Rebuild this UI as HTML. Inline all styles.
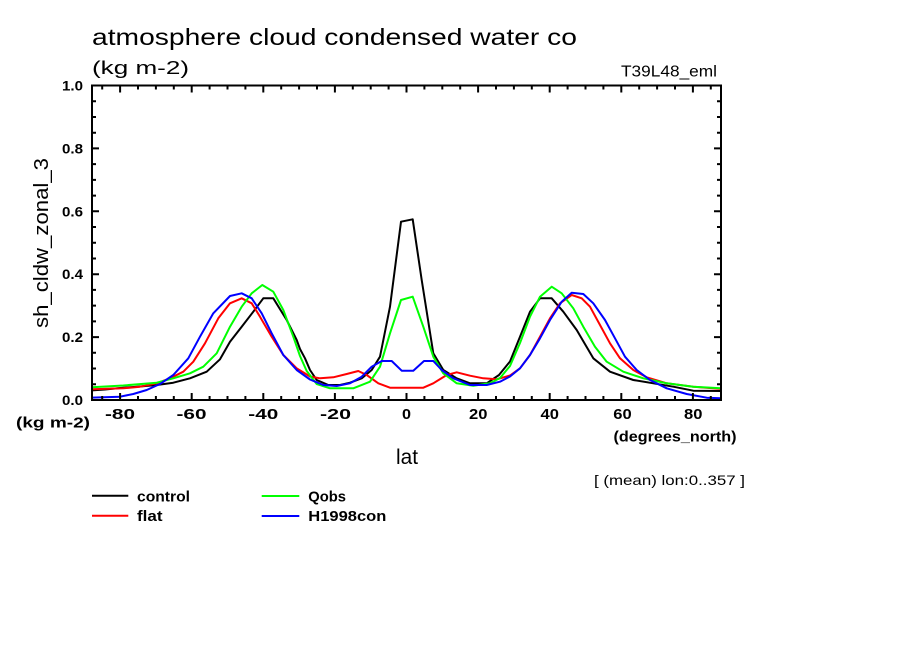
<!DOCTYPE html>
<html><head><meta charset="utf-8"><style>
html,body{margin:0;padding:0;background:#fff;}
svg{display:block;}
text{font-family:"Liberation Sans",sans-serif;fill:#000;}
.b{font-weight:bold;}
</style></head><body>
<svg width="904" height="654" viewBox="0 0 904 654" xmlns="http://www.w3.org/2000/svg">
<rect width="904" height="654" fill="#fff"/>
<!-- titles -->
<text x="92" y="45" font-size="23" textLength="485" lengthAdjust="spacingAndGlyphs">atmosphere cloud condensed water co</text>
<text x="92" y="74" font-size="18" textLength="97" lengthAdjust="spacingAndGlyphs">(kg m-2)</text>
<text x="621" y="76.5" font-size="15.5" textLength="96" lengthAdjust="spacingAndGlyphs">T39L48_eml</text>

<defs><clipPath id="c"><rect x="92" y="85.5" width="629" height="314.5"/></clipPath></defs>
<!-- curves -->
<g clip-path="url(#c)" fill="none" stroke-width="2" stroke-linejoin="round">
<polyline stroke="#000" points="90,390.5 105,389.5 120,388 140,386.5 156.7,385 173.3,382.7 190,378.3 206.7,371.7 220,359.3 230,341.7 241.7,326.7 253.3,311.7 263.3,298.3 273.3,298.3 286.7,320 296.7,340 300,349 305,358.3 310,370 316.7,380 328.3,385 340,385 350,382.7 361.7,378.3 371.7,370 380,356.7 390,306.7 401,221.7 412.7,219.3 421.7,280 433.3,353.3 443.3,370 456.7,378.3 470,383.3 486.7,383.3 499,375 510,361.5 520,336.7 530,311.7 540,298.3 551.7,298.3 563.3,311.7 576.7,330 593.3,358.3 610,371.7 633.3,380 653.3,383.3 673.3,386.7 693.3,390.7 723,391"/>
<polyline stroke="#f00" points="90,389.3 123.3,388.3 140,386.7 156.7,383.3 170,378.3 183.3,371.7 193.3,361.7 205,343.3 218.3,318.3 230,303.3 241.7,298.3 251.7,303.3 260,316.7 271.7,336.7 283.3,355 296.7,368.3 310,376.5 320,378.3 333.3,377.3 346.7,374 358.3,371 366.7,375 378.3,383.3 390,387.7 423.3,387.7 433.3,383.3 446.7,375 456.7,372.3 470,375.7 483.3,378.3 496.7,379.3 510,375.5 520,368.3 530,355 540,336.7 550,318.3 560,303.3 571.7,295 581.7,298.3 590,306.7 600,325 610,343.3 620,358.3 633.3,370 646.7,377.3 666.7,383.3 693.3,386.7 723,389"/>
<polyline stroke="#0f0" points="90,387.3 123.3,385.5 156.7,382.7 173.3,378.3 190,373.3 203.3,366.7 216.7,353.3 230,326.7 241.7,306.7 251.7,293.3 262.3,285 273.3,291.7 283.3,310 293.3,336.7 300,356 306.7,371 316.7,384 330,388.3 353.3,388.3 370,381.7 380,366.7 390,333.3 401,300 412.7,296.7 423.3,326.7 433.3,356.7 443.3,373.3 456.7,383.3 473.3,385.7 490,383.3 500,378 510,366 520,343 530,316.7 540,296.7 551.7,286.7 561.7,293.3 573.3,308.3 583.3,326.7 595,346.7 606.7,361.7 623.3,371.7 643.3,378.3 666.7,383.3 693.3,386.7 723,388.3"/>
<polyline stroke="#00f" points="90,397.7 120,396.7 133.3,394 146.7,390 160,384 173.3,375 188.3,358.3 200,336.7 213.3,313.3 230,296 241.7,293.3 251.7,298.3 261.7,313.3 271.7,333.3 283.3,355 296.7,370 310,379.5 323.3,385 336.7,386 350,383.3 361.7,376.7 371.7,366.7 381.7,361 391.7,361 401.7,370.7 413.3,370.7 424,361 433.3,361 441.7,370 453.3,378.3 470,385 486.7,385 500,381.7 510,376.5 520,368.3 530,355 540,338.3 550,320 561.7,301.7 571.7,292.7 583.3,294 593.3,303.3 605,320 615,338.3 625,356.7 636.7,370 650,380 666.7,388.3 686.7,394 706.7,397.7 723,398.3"/>
</g>

<!-- frame -->
<rect x="92" y="85.5" width="629" height="314.5" fill="none" stroke="#000" stroke-width="2"/>
<!-- ticks -->
<g stroke="#000" stroke-width="2" fill="none">
<!-- left/right major -->
<path d="M92 400h7M92 337.1h7M92 274.2h7M92 211.3h7M92 148.4h7M92 85.5h7
M721 400h-7M721 337.1h-7M721 274.2h-7M721 211.3h-7M721 148.4h-7M721 85.5h-7"/>
<!-- left/right minor -->
<path d="M92 384.3h4M92 368.55h4M92 352.8h4M92 321.4h4M92 305.65h4M92 289.9h4M92 258.5h4M92 242.75h4M92 227h4M92 195.6h4M92 179.85h4M92 164.1h4M92 132.7h4M92 116.95h4M92 101.2h4
M721 384.3h-4M721 368.55h-4M721 352.8h-4M721 321.4h-4M721 305.65h-4M721 289.9h-4M721 258.5h-4M721 242.75h-4M721 227h-4M721 195.6h-4M721 179.85h-4M721 164.1h-4M721 132.7h-4M721 116.95h-4M721 101.2h-4"/>
<!-- bottom/top major -->
<path d="M120.1 400v-7M191.7 400v-7M263.3 400v-7M334.9 400v-7M406.5 400v-7M478.1 400v-7M549.7 400v-7M621.3 400v-7M692.9 400v-7
M120.1 85.5v7M191.7 85.5v7M263.3 85.5v7M334.9 85.5v7M406.5 85.5v7M478.1 85.5v7M549.7 85.5v7M621.3 85.5v7M692.9 85.5v7"/>
<!-- bottom/top minor -->
<path d="M102.2 400v-4M138 400v-4M155.9 400v-4M173.8 400v-4M209.6 400v-4M227.5 400v-4M245.4 400v-4M281.2 400v-4M299.1 400v-4M317 400v-4M352.8 400v-4M370.7 400v-4M388.6 400v-4M424.4 400v-4M442.3 400v-4M460.2 400v-4M496 400v-4M513.9 400v-4M531.8 400v-4M567.6 400v-4M585.5 400v-4M603.4 400v-4M639.2 400v-4M657.1 400v-4M675 400v-4M710.8 400v-4
M102.2 85.5v4M138 85.5v4M155.9 85.5v4M173.8 85.5v4M209.6 85.5v4M227.5 85.5v4M245.4 85.5v4M281.2 85.5v4M299.1 85.5v4M317 85.5v4M352.8 85.5v4M370.7 85.5v4M388.6 85.5v4M424.4 85.5v4M442.3 85.5v4M460.2 85.5v4M496 85.5v4M513.9 85.5v4M531.8 85.5v4M567.6 85.5v4M585.5 85.5v4M603.4 85.5v4M639.2 85.5v4M657.1 85.5v4M675 85.5v4M710.8 85.5v4"/>
</g>

<!-- y tick labels -->
<g class="b" font-size="14">
<text x="62" y="405" textLength="21" lengthAdjust="spacingAndGlyphs">0.0</text>
<text x="62" y="342.1" textLength="21" lengthAdjust="spacingAndGlyphs">0.2</text>
<text x="62" y="279.2" textLength="21" lengthAdjust="spacingAndGlyphs">0.4</text>
<text x="62" y="216.3" textLength="21" lengthAdjust="spacingAndGlyphs">0.6</text>
<text x="62" y="153.4" textLength="21" lengthAdjust="spacingAndGlyphs">0.8</text>
<text x="62" y="90.5" textLength="21" lengthAdjust="spacingAndGlyphs">1.0</text>
</g>
<!-- x tick labels -->
<g class="b" font-size="15">
<text x="105" y="419" textLength="30" lengthAdjust="spacingAndGlyphs">-80</text>
<text x="176.5" y="419" textLength="30" lengthAdjust="spacingAndGlyphs">-60</text>
<text x="248.3" y="419" textLength="30" lengthAdjust="spacingAndGlyphs">-40</text>
<text x="320" y="419" textLength="31" lengthAdjust="spacingAndGlyphs">-20</text>
<text x="402" y="419" textLength="9" lengthAdjust="spacingAndGlyphs">0</text>
<text x="469" y="419" textLength="18.4" lengthAdjust="spacingAndGlyphs">20</text>
<text x="540.5" y="419" textLength="18.4" lengthAdjust="spacingAndGlyphs">40</text>
<text x="613.3" y="419" textLength="18.4" lengthAdjust="spacingAndGlyphs">60</text>
<text x="684" y="419" textLength="18.4" lengthAdjust="spacingAndGlyphs">80</text>
</g>

<text class="b" x="16" y="427.5" font-size="15" textLength="74" lengthAdjust="spacingAndGlyphs">(kg m-2)</text>
<text class="b" x="613.5" y="441.5" font-size="15" textLength="123" lengthAdjust="spacingAndGlyphs">(degrees_north)</text>
<text x="396" y="464" font-size="21" textLength="22" lengthAdjust="spacingAndGlyphs">lat</text>
<text x="594" y="485" font-size="14" textLength="151" lengthAdjust="spacingAndGlyphs">[ (mean) lon:0..357 ]</text>

<!-- y axis label -->
<text transform="translate(48,328) rotate(-90)" font-size="20" textLength="170" lengthAdjust="spacingAndGlyphs">sh_cldw_zonal_3</text>

<!-- legend -->
<g stroke-width="2">
<line x1="92" y1="495.7" x2="128.3" y2="495.7" stroke="#000"/>
<line x1="92" y1="515.7" x2="128.3" y2="515.7" stroke="#f00"/>
<line x1="261.7" y1="496" x2="299.3" y2="496" stroke="#0f0"/>
<line x1="261.7" y1="516" x2="299.3" y2="516" stroke="#00f"/>
</g>
<g class="b" font-size="15">
<text x="137" y="501.5" textLength="53" lengthAdjust="spacingAndGlyphs">control</text>
<text x="137" y="520.8" textLength="25.5" lengthAdjust="spacingAndGlyphs">flat</text>
<text x="308.3" y="501.5" textLength="37.7" lengthAdjust="spacingAndGlyphs">Qobs</text>
<text x="308.3" y="521" textLength="78" lengthAdjust="spacingAndGlyphs">H1998con</text>
</g>
</svg>
</body></html>
